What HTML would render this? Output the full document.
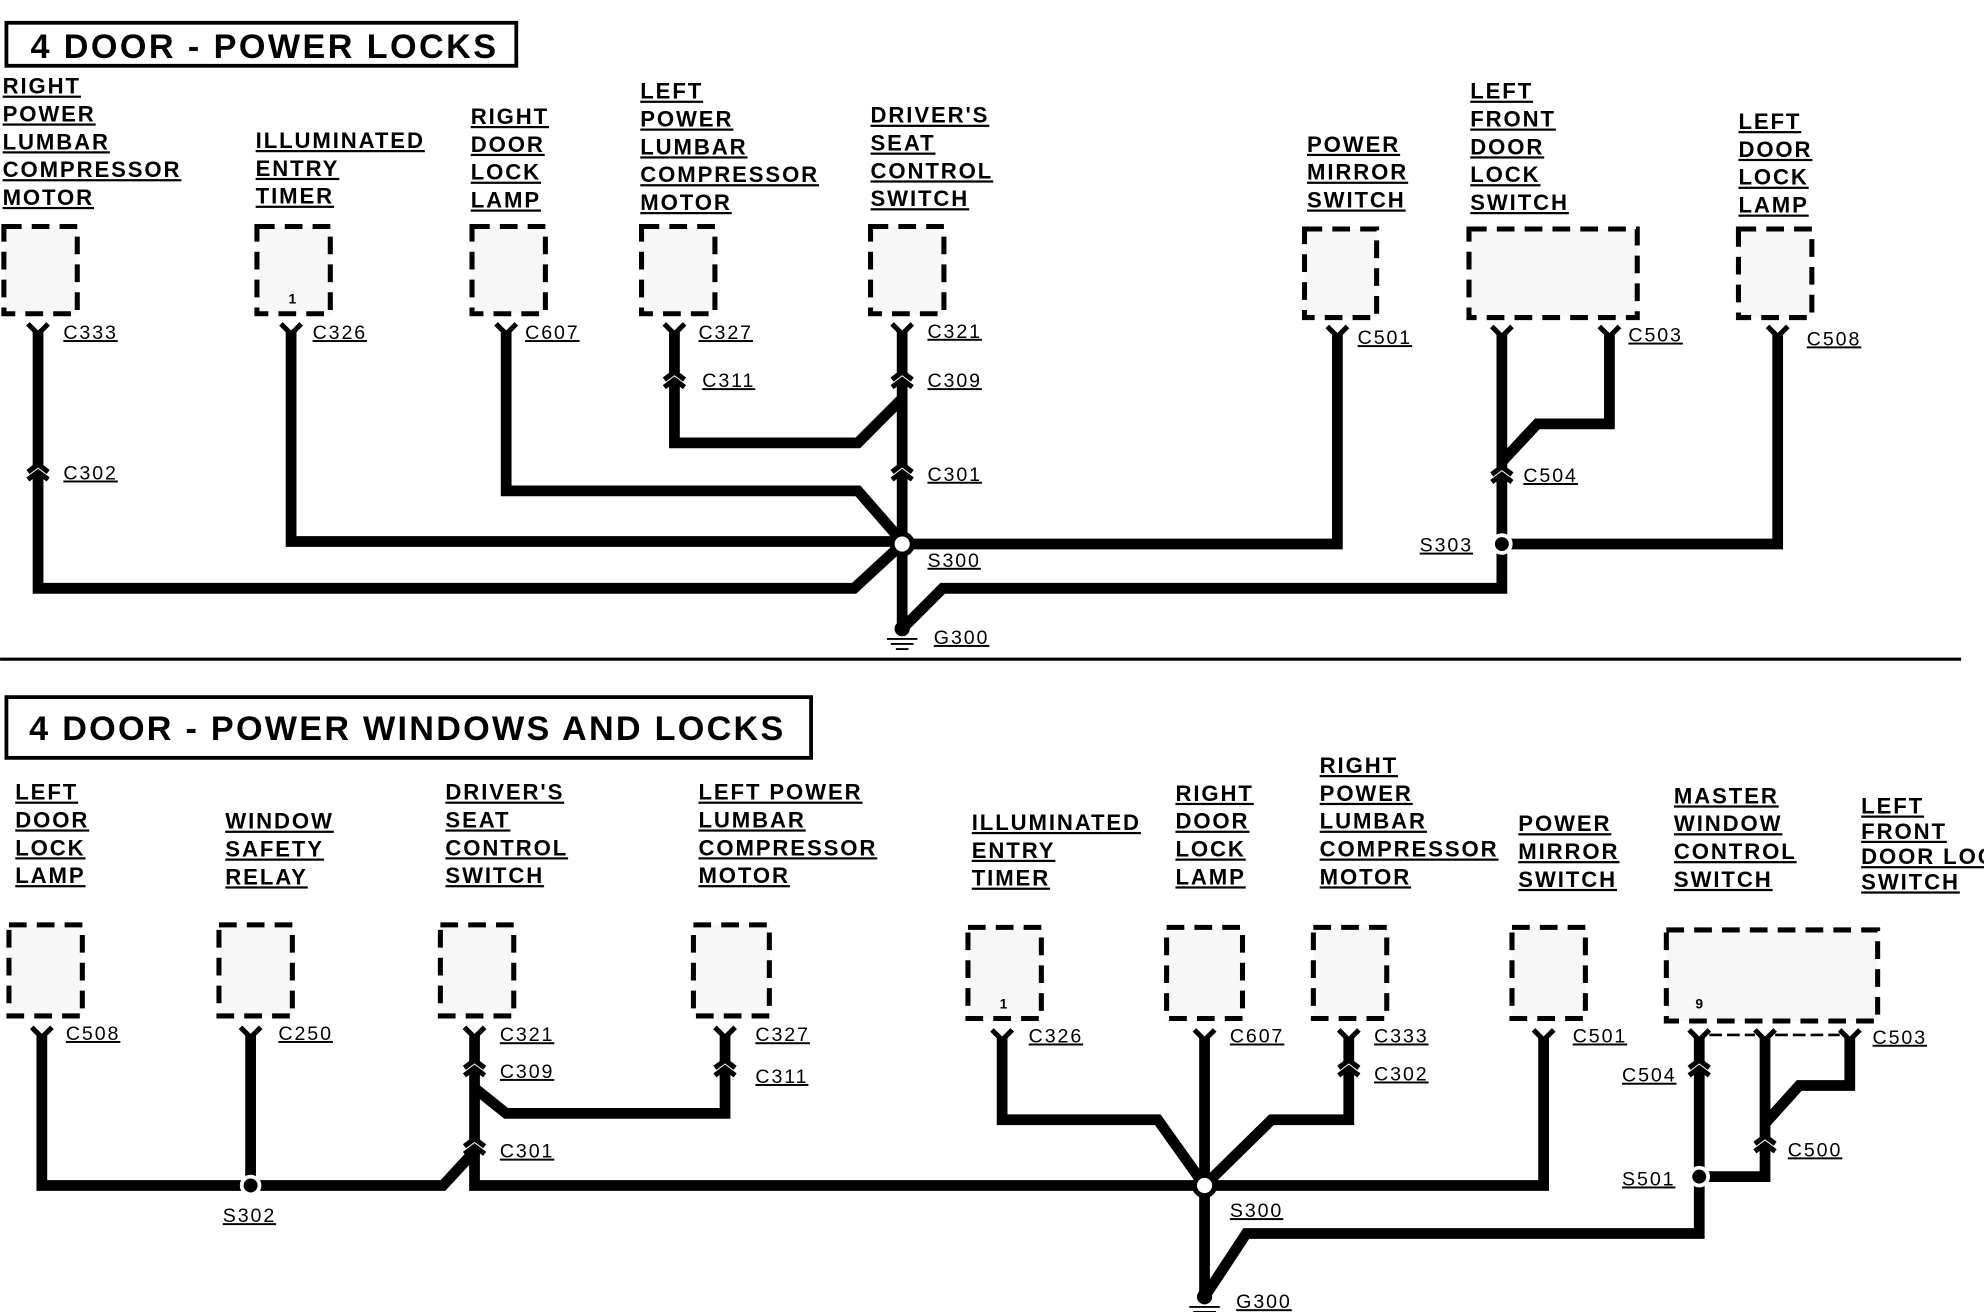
<!DOCTYPE html>
<html><head><meta charset="utf-8"><style>
html,body{margin:0;padding:0;background:#fff;}
svg{display:block;}
text{font-family:"Liberation Sans",sans-serif;font-weight:bold;fill:#000;}
.l{font-size:17.5px;text-decoration:underline;letter-spacing:1.5px;}
.c{font-size:15.5px;text-decoration:underline;font-weight:normal;letter-spacing:1.5px;}
.w{fill:none;stroke:#000;stroke-width:8.5;stroke-linejoin:miter;}
.b{fill:#f7f7f7;stroke:#000;stroke-width:4;stroke-dasharray:14 8;}
.t{fill:none;stroke:#000;stroke-width:3;}
</style></head><body>
<svg width="1984" height="1312" viewBox="0 0 1568 1037" xmlns="http://www.w3.org/2000/svg">
<defs>
<g id="y"><path d="M-8,-6 L0,2 L8,-6" fill="none" stroke="#000" stroke-width="4"/></g>
<g id="m"><path d="M-8,-2 L0,-8 L8,-2" fill="none" stroke="#000" stroke-width="4"/><path d="M-8,4 L0,-2 L8,4" fill="none" stroke="#000" stroke-width="4"/></g>
</defs>

<!-- TOP -->
<rect x="5" y="18" width="403" height="34" class="t"/>
<text x="24" y="46" font-size="27" font-weight="normal" letter-spacing="2" textLength="370">4 DOOR - POWER  LOCKS</text>

<text class="l" x="2" y="74">RIGHT</text><text class="l" x="2" y="96">POWER</text><text class="l" x="2" y="118">LUMBAR</text><text class="l" x="2" y="140">COMPRESSOR</text><text class="l" x="2" y="162">MOTOR</text>
<text class="l" x="202" y="117">ILLUMINATED</text><text class="l" x="202" y="139">ENTRY</text><text class="l" x="202" y="161">TIMER</text>
<text class="l" x="372" y="98">RIGHT</text><text class="l" x="372" y="120">DOOR</text><text class="l" x="372" y="142">LOCK</text><text class="l" x="372" y="164">LAMP</text>
<text class="l" x="506" y="78">LEFT</text><text class="l" x="506" y="100">POWER</text><text class="l" x="506" y="122">LUMBAR</text><text class="l" x="506" y="144">COMPRESSOR</text><text class="l" x="506" y="166">MOTOR</text>
<text class="l" x="688" y="97">DRIVER'S</text><text class="l" x="688" y="119">SEAT</text><text class="l" x="688" y="141">CONTROL</text><text class="l" x="688" y="163">SWITCH</text>
<text class="l" x="1033" y="120">POWER</text><text class="l" x="1033" y="142">MIRROR</text><text class="l" x="1033" y="164">SWITCH</text>
<text class="l" x="1162" y="78">LEFT</text><text class="l" x="1162" y="100">FRONT</text><text class="l" x="1162" y="122">DOOR</text><text class="l" x="1162" y="144">LOCK</text><text class="l" x="1162" y="166">SWITCH</text>
<text class="l" x="1374" y="102">LEFT</text><text class="l" x="1374" y="124">DOOR</text><text class="l" x="1374" y="146">LOCK</text><text class="l" x="1374" y="168">LAMP</text>

<rect class="b" x="3" y="179" width="58" height="69"/>
<rect class="b" x="203" y="179" width="58" height="69"/>
<rect class="b" x="373" y="179" width="58" height="69"/>
<rect class="b" x="507" y="179" width="58" height="69"/>
<rect class="b" x="688" y="179" width="58" height="69"/>
<rect class="b" x="1031" y="181" width="57" height="70"/>
<rect class="b" x="1161" y="181" width="133" height="70"/>
<rect class="b" x="1374" y="181" width="58" height="70"/>
<text x="228" y="240" font-size="11" font-weight="normal">1</text>

<path class="w" d="M30,262 V465 H675 L713,430"/>
<path class="w" d="M230,262 V428 H713"/>
<path class="w" d="M400,262 V388 H678 L713,428"/>
<path class="w" d="M533,262 V350 H678 L713,315"/>
<path class="w" d="M713,262 V500"/>
<path class="w" d="M1057,264 V430 H713"/>
<path class="w" d="M1272,264 V335 H1215 L1187,365"/>
<path class="w" d="M1187,264 V465 H745 L713,497"/>
<path class="w" d="M1187,430 H1405 V264"/>

<use href="#y" x="30" y="262"/><use href="#y" x="230" y="262"/><use href="#y" x="400" y="262"/><use href="#y" x="533" y="262"/><use href="#y" x="713" y="262"/><use href="#y" x="1057" y="264"/><use href="#y" x="1187" y="264"/><use href="#y" x="1272" y="264"/><use href="#y" x="1405" y="264"/>
<rect x="20" y="369" width="20" height="6" fill="#fff"/><use href="#m" x="30" y="375"/>
<rect x="523" y="296" width="20" height="6" fill="#fff"/><use href="#m" x="533" y="302"/>
<rect x="703" y="296" width="20" height="6" fill="#fff"/><use href="#m" x="713" y="302"/>
<rect x="703" y="369" width="20" height="6" fill="#fff"/><use href="#m" x="713" y="375"/>
<rect x="1177" y="371" width="20" height="6" fill="#fff"/><use href="#m" x="1187" y="377"/>
<circle cx="713" cy="430" r="8" fill="#fff" stroke="#000" stroke-width="4"/>
<circle cx="1187" cy="430" r="7" fill="#000" stroke="#fff" stroke-width="3"/>
<circle cx="713" cy="497" r="6" fill="#000"/>
<path d="M701,505 H725 M704,509 H722 M708,513 H718" stroke="#000" stroke-width="1.5"/>

<text class="c" x="50" y="268">C333</text><text class="c" x="247" y="268">C326</text><text class="c" x="415" y="268">C607</text><text class="c" x="552" y="268">C327</text><text class="c" x="733" y="267">C321</text>
<text class="c" x="50" y="379">C302</text><text class="c" x="555" y="306">C311</text><text class="c" x="733" y="306">C309</text><text class="c" x="733" y="380">C301</text>
<text class="c" x="733" y="448">S300</text><text class="c" x="738" y="509">G300</text>
<text class="c" x="1073" y="272">C501</text><text class="c" x="1287" y="270">C503</text><text class="c" x="1204" y="381">C504</text><text class="c" x="1122" y="436">S303</text><text class="c" x="1428" y="273">C508</text>

<line x1="0" y1="521" x2="1550" y2="521" stroke="#000" stroke-width="2.5"/>

<!-- BOTTOM -->
<rect x="5" y="551" width="636" height="48" class="t"/>
<text x="23" y="585" font-size="27" font-weight="normal" letter-spacing="2" textLength="598">4 DOOR - POWER WINDOWS AND LOCKS</text>

<text class="l" x="12" y="632">LEFT</text><text class="l" x="12" y="654">DOOR</text><text class="l" x="12" y="676">LOCK</text><text class="l" x="12" y="698">LAMP</text>
<text class="l" x="178" y="655">WINDOW</text><text class="l" x="178" y="677">SAFETY</text><text class="l" x="178" y="699">RELAY</text>
<text class="l" x="352" y="632">DRIVER'S</text><text class="l" x="352" y="654">SEAT</text><text class="l" x="352" y="676">CONTROL</text><text class="l" x="352" y="698">SWITCH</text>
<text class="l" x="552" y="632">LEFT  POWER</text><text class="l" x="552" y="654">LUMBAR</text><text class="l" x="552" y="676">COMPRESSOR</text><text class="l" x="552" y="698">MOTOR</text>
<text class="l" x="768" y="656">ILLUMINATED</text><text class="l" x="768" y="678">ENTRY</text><text class="l" x="768" y="700">TIMER</text>
<text class="l" x="929" y="633">RIGHT</text><text class="l" x="929" y="655">DOOR</text><text class="l" x="929" y="677">LOCK</text><text class="l" x="929" y="699">LAMP</text>
<text class="l" x="1043" y="611">RIGHT</text><text class="l" x="1043" y="633">POWER</text><text class="l" x="1043" y="655">LUMBAR</text><text class="l" x="1043" y="677">COMPRESSOR</text><text class="l" x="1043" y="699">MOTOR</text>
<text class="l" x="1200" y="657">POWER</text><text class="l" x="1200" y="679">MIRROR</text><text class="l" x="1200" y="701">SWITCH</text>
<text class="l" x="1323" y="635">MASTER</text><text class="l" x="1323" y="657">WINDOW</text><text class="l" x="1323" y="679">CONTROL</text><text class="l" x="1323" y="701">SWITCH</text>
<text class="l" x="1471" y="643">LEFT</text><text class="l" x="1471" y="663">FRONT</text><text class="l" x="1471" y="683">DOOR LOCK</text><text class="l" x="1471" y="703">SWITCH</text>

<rect class="b" x="7" y="731" width="58" height="72"/>
<rect class="b" x="173" y="731" width="58" height="72"/>
<rect class="b" x="348" y="731" width="58" height="72"/>
<rect class="b" x="548" y="731" width="60" height="72"/>
<rect class="b" x="765" y="733" width="58" height="72"/>
<rect class="b" x="922" y="733" width="60" height="72"/>
<rect class="b" x="1038" y="733" width="58" height="72"/>
<rect class="b" x="1195" y="733" width="58" height="72"/>
<rect class="b" x="1317" y="735" width="167" height="72"/>
<text x="1340" y="797" font-size="11" font-weight="normal">9</text>
<text x="790" y="797" font-size="11" font-weight="normal">1</text>

<path class="w" d="M33,818 V937 H350 L375,910"/>
<path class="w" d="M198,818 V937"/>
<path class="w" d="M375,818 V937 H952"/>
<path class="w" d="M375,860 L400,880 H573 V818"/>
<path class="w" d="M792,820 V885 H915 L952,937"/>
<path class="w" d="M952,820 V1025"/>
<path class="w" d="M1066,820 V885 H1005 L952,937"/>
<path class="w" d="M1220,820 V937 H952"/>
<path class="w" d="M1462,820 V858 H1422 L1395,888"/>
<path class="w" d="M1395,820 V930 H1343"/>
<path class="w" d="M1343,820 V975 H985 L952,1025"/>

<use href="#y" x="33" y="818"/><use href="#y" x="198" y="818"/><use href="#y" x="375" y="818"/><use href="#y" x="573" y="818"/><use href="#y" x="792" y="820"/><use href="#y" x="952" y="820"/><use href="#y" x="1066" y="820"/><use href="#y" x="1220" y="820"/><use href="#y" x="1343" y="820"/><use href="#y" x="1395" y="820"/><use href="#y" x="1462" y="820"/>
<path d="M1351,818 H1387 M1403,818 H1454" stroke="#000" stroke-width="2" stroke-dasharray="10 4"/>
<rect x="365" y="840" width="20" height="6" fill="#fff"/><use href="#m" x="375" y="846"/>
<rect x="365" y="902" width="20" height="6" fill="#fff"/><use href="#m" x="375" y="908"/>
<rect x="563" y="840" width="20" height="6" fill="#fff"/><use href="#m" x="573" y="846"/>
<rect x="1056" y="840" width="20" height="6" fill="#fff"/><use href="#m" x="1066" y="846"/>
<rect x="1333" y="840" width="20" height="6" fill="#fff"/><use href="#m" x="1343" y="846"/>
<rect x="1385" y="900" width="20" height="6" fill="#fff"/><use href="#m" x="1395" y="906"/>
<circle cx="198" cy="937" r="7" fill="#000" stroke="#fff" stroke-width="3"/>
<circle cx="1343" cy="930" r="7" fill="#000" stroke="#fff" stroke-width="3"/>
<circle cx="952" cy="937" r="8" fill="#fff" stroke="#000" stroke-width="4"/>
<circle cx="952" cy="1025" r="6" fill="#000"/>
<path d="M940,1033 H964 M943,1037 H961" stroke="#000" stroke-width="1.5"/>

<text class="c" x="52" y="822">C508</text><text class="c" x="220" y="822">C250</text><text class="c" x="395" y="823">C321</text><text class="c" x="395" y="852">C309</text><text class="c" x="395" y="915">C301</text>
<text class="c" x="597" y="823">C327</text><text class="c" x="597" y="856">C311</text><text class="c" x="176" y="966">S302</text>
<text class="c" x="813" y="824">C326</text><text class="c" x="972" y="824">C607</text><text class="c" x="972" y="962">S300</text><text class="c" x="977" y="1034">G300</text>
<text class="c" x="1086" y="824">C333</text><text class="c" x="1086" y="854">C302</text><text class="c" x="1243" y="824">C501</text>
<text class="c" x="1480" y="825">C503</text><text class="c" x="1282" y="855">C504</text><text class="c" x="1413" y="914">C500</text><text class="c" x="1282" y="937">S501</text>
</svg>
</body></html>
